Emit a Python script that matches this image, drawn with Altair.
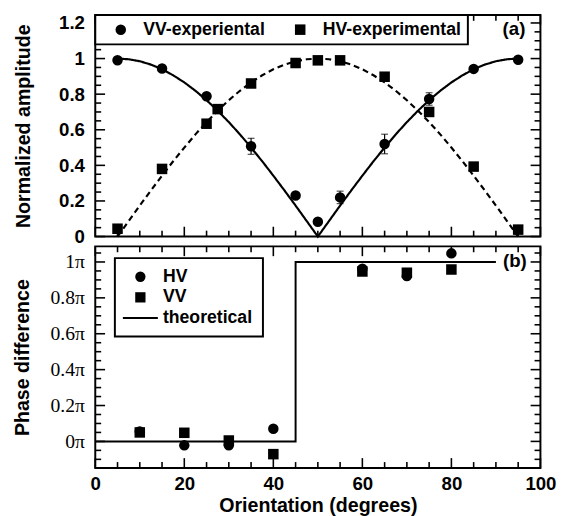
import altair as alt
import pandas as pd

# ---------------- data ----------------
# panel (a): normalized amplitude
vv_x = [5, 15, 25, 35, 45, 50, 55, 65, 75, 85, 95]
vv_amp = [0.99, 0.944, 0.788, 0.507, 0.231, 0.083, 0.22, 0.52, 0.773, 0.942, 0.993]
vv_err = [0, 0, 0, 0.045, 0, 0, 0.035, 0.055, 0.035, 0, 0]
hv_x = [5, 15, 25, 27.5, 35, 45, 50, 55, 65, 75, 85, 95]
hv_amp = [0.044, 0.38, 0.634, 0.716, 0.86, 0.975, 0.99, 0.99, 0.898, 0.70, 0.393, 0.039]

theory_x = [5, 7.5, 10, 12.5, 15, 17.5, 20, 22.5, 25, 27.5, 30, 32.5, 35, 37.5, 40, 42.5,
            45, 47.5, 50, 52.5, 55, 57.5, 60, 62.5, 65, 67.5, 70, 72.5, 75, 77.5, 80, 82.5,
            85, 87.5, 90, 92.5, 95]
theory_vv = [1.0, 0.996, 0.985, 0.966, 0.94, 0.906, 0.866, 0.819, 0.766, 0.707, 0.643, 0.574,
             0.5, 0.423, 0.342, 0.259, 0.174, 0.087, 0.0, 0.087, 0.174, 0.259, 0.342, 0.423,
             0.5, 0.574, 0.643, 0.707, 0.766, 0.819, 0.866, 0.906, 0.94, 0.966, 0.985, 0.996, 1.0]
theory_hv = [0.0, 0.087, 0.174, 0.259, 0.342, 0.423, 0.5, 0.574, 0.643, 0.707, 0.766, 0.819,
             0.866, 0.906, 0.94, 0.966, 0.985, 0.996, 1.0, 0.996, 0.985, 0.966, 0.94, 0.906,
             0.866, 0.819, 0.766, 0.707, 0.643, 0.574, 0.5, 0.423, 0.342, 0.259, 0.174, 0.087, 0.0]

# panel (b): phase difference (in units of pi)
phase_x = [10, 20, 30, 40, 60, 70, 80]
phase_hv = [0.055, -0.022, -0.022, 0.071, 0.962, 0.922, 1.048]
phase_vv = [0.05, 0.048, 0.005, -0.071, 0.947, 0.94, 0.958]
step_x = [0, 45, 45, 90]
step_y = [0, 0, 1, 1]

# tick values
amp_major = [0, 0.2, 0.4, 0.6, 0.8, 1.0, 1.2]
amp_minor = [0.05, 0.1, 0.15, 0.25, 0.3, 0.35, 0.45, 0.5, 0.55, 0.65, 0.7, 0.75,
             0.85, 0.9, 0.95, 1.05, 1.1, 1.15]
phase_major = [0, 0.2, 0.4, 0.6, 0.8, 1.0]
phase_minor = [-0.1, -0.05, 0.05, 0.1, 0.15, 0.25, 0.3, 0.35, 0.45, 0.5, 0.55, 0.65,
               0.7, 0.75, 0.85, 0.9, 0.95, 1.05]
x_major = [0, 20, 40, 60, 80, 100]
x_minor = [5, 10, 15, 25, 30, 35, 45, 50, 55, 65, 70, 75, 85, 90, 95]

# ---------------- layout / style ----------------
W, H = 454, 226
MAJ, MIN = 10, 6
SANS = "Liberation Sans"
SERIF = "Liberation Serif"
LINE_SYMBOL = "M-3.4,-0.2H3.4V0.2H-3.4Z"   # legend symbol for the theoretical line

xs = alt.Scale(domain=[0, 100], nice=False, zero=False)
ys_top = alt.Scale(domain=[0, 1.245], nice=False, zero=False)
ys_bot = alt.Scale(domain=[-0.148, 1.087], nice=False, zero=False)

top_y_axis = alt.Axis(values=amp_major, format="~g", title="Normalized amplitude",
                      ticks=False, domain=False, grid=False, labelOverlap=False,
                      labelFont=SANS, labelFontSize=19, labelFontWeight="bold",
                      labelColor="black", labelPadding=11,
                      titleFont=SANS, titleFontSize=20, titleFontWeight="bold",
                      titleColor="black", titlePadding=26)
bot_y_axis = alt.Axis(values=phase_major, labelExpr="format(datum.value, '~g') + 'π'",
                      title="Phase difference", ticks=False, domain=False, grid=False,
                      labelOverlap=False, labelFont=SERIF, labelFontSize=20,
                      labelColor="black", labelPadding=11,
                      titleFont=SANS, titleFontSize=20, titleFontWeight="bold",
                      titleColor="black", titlePadding=18)
bot_x_axis = alt.Axis(values=x_major, title="Orientation (degrees)", ticks=False,
                      domain=False, grid=False, labelFlush=False, labelOverlap=False,
                      labelFont=SANS, labelFontSize=19, labelFontWeight="bold",
                      labelColor="black", labelPadding=7,
                      titleFont=SANS, titleFontSize=20, titleFontWeight="bold",
                      titleColor="black", titlePadding=2)


def enc_x(field, axis):
    return alt.X(field, scale=xs, axis=axis)


def y_ticks(vals, length, yscale, yaxis):
    df = pd.DataFrame({"t": vals})
    base = alt.Chart(df).mark_rule(color="black", strokeWidth=1.6)
    ey = alt.Y("t:Q", scale=yscale, axis=yaxis)
    return [
        base.encode(y=ey, x=alt.value(0), x2=alt.value(length)),
        base.encode(y=ey, x=alt.value(W - length), x2=alt.value(W)),
    ]


def x_ticks(vals, length, xaxis):
    df = pd.DataFrame({"t": vals})
    base = alt.Chart(df).mark_rule(color="black", strokeWidth=1.6)
    ex = alt.X("t:Q", scale=xs, axis=xaxis)
    return [
        base.encode(x=ex, y=alt.value(0), y2=alt.value(length)),
        base.encode(x=ex, y=alt.value(H - length), y2=alt.value(H)),
    ]


def frame_ticks(major, minor, yscale, yaxis, xaxis):
    return (y_ticks(major, MAJ, yscale, yaxis) + y_ticks(minor, MIN, yscale, yaxis)
            + x_ticks(x_major, MAJ, xaxis) + x_ticks(x_minor, MIN, xaxis))


# ---------------- panel (a) ----------------
theory_df = pd.DataFrame({
    "x": theory_x + theory_x,
    "v": theory_vv + theory_hv,
    "curve": ["VV"] * len(theory_x) + ["HV"] * len(theory_x),
})
lines = alt.Chart(theory_df).mark_line(color="black", strokeWidth=2.2).encode(
    x=enc_x("x:Q", None),
    y=alt.Y("v:Q", scale=ys_top, axis=top_y_axis),
    strokeDash=alt.StrokeDash("curve:N", scale=alt.Scale(domain=["VV", "HV"],
                                                         range=[[1, 0], [6, 4]]),
                              legend=None),
)

err_df = pd.DataFrame({"x": vv_x, "v": vv_amp, "e": vv_err})
err_df = err_df[err_df["e"] > 0].copy()
err_df["lo"] = err_df["v"] - err_df["e"]
err_df["hi"] = err_df["v"] + err_df["e"]
err_rule = alt.Chart(err_df).mark_rule(color="black", strokeWidth=1.2).encode(
    x=enc_x("x:Q", None),
    y=alt.Y("lo:Q", scale=ys_top, axis=top_y_axis), y2="hi:Q")
err_lo = alt.Chart(err_df).mark_tick(color="black", orient="horizontal", size=7,
                                     thickness=1.2).encode(
    x=enc_x("x:Q", None), y=alt.Y("lo:Q", scale=ys_top, axis=top_y_axis))
err_hi = alt.Chart(err_df).mark_tick(color="black", orient="horizontal", size=7,
                                     thickness=1.2).encode(
    x=enc_x("x:Q", None), y=alt.Y("hi:Q", scale=ys_top, axis=top_y_axis))

pts_top = pd.concat([
    pd.DataFrame({"x": hv_x, "v": hv_amp, "series": "HV-experimental"}),
    pd.DataFrame({"x": vv_x, "v": vv_amp, "series": "VV-experiental"}),
])
points_top = alt.Chart(pts_top).mark_point(filled=True, color="black", size=115,
                                           opacity=1).encode(
    x=enc_x("x:Q", None),
    y=alt.Y("v:Q", scale=ys_top, axis=top_y_axis),
    shape=alt.Shape("series:N",
                    scale=alt.Scale(domain=["VV-experiental", "HV-experimental"],
                                    range=["circle", "square"]),
                    legend=alt.Legend(title=None, orient="none", legendX=0, legendY=0,
                                      direction="horizontal", padding=6,
                                      symbolOffset=11, labelOffset=14, columnPadding=15,
                                      fillColor="white", strokeColor="black",
                                      symbolSize=115, symbolFillColor="black",
                                      symbolStrokeColor="black", symbolStrokeWidth=1,
                                      labelFont=SANS, labelFontSize=18,
                                      labelFontWeight="bold", labelColor="black")),
)

label_a = alt.Chart(pd.DataFrame({"t": ["(a)"]})).mark_text(
    font=SANS, fontSize=19, fontWeight="bold", color="black", align="center",
    baseline="middle").encode(x=alt.value(427), y=alt.value(14), text="t:N")

top = alt.layer(lines, *frame_ticks(amp_major, amp_minor, ys_top, top_y_axis, None),
                err_rule, err_lo, err_hi, points_top, label_a).properties(width=W, height=H)

# ---------------- panel (b) ----------------
step_df = pd.DataFrame({"x": step_x, "v": step_y, "i": list(range(len(step_x)))})
step = alt.Chart(step_df).mark_line(color="black", strokeWidth=2).encode(
    x=enc_x("x:Q", bot_x_axis),
    y=alt.Y("v:Q", scale=ys_bot, axis=bot_y_axis),
    order="i:Q",
)

pts_bot = pd.concat([
    pd.DataFrame({"x": phase_x, "v": phase_hv, "series": "HV"}),
    pd.DataFrame({"x": phase_x, "v": phase_vv, "series": "VV"}),
])
leg_dom = ["HV", "VV", "theoretical"]
points_bot = alt.Chart(pts_bot).mark_point(filled=True, color="black", size=115,
                                           opacity=1).encode(
    x=enc_x("x:Q", bot_x_axis),
    y=alt.Y("v:Q", scale=ys_bot, axis=bot_y_axis),
    shape=alt.Shape("series:N", scale=alt.Scale(domain=leg_dom,
                                                range=["circle", "square", LINE_SYMBOL]),
                    legend=alt.Legend(title=None, orient="none", legendX=20, legendY=12,
                                      direction="vertical", padding=10, symbolOffset=7,
                                      labelOffset=14, rowPadding=3,
                                      fillColor="white", strokeColor="black",
                                      symbolSize=110, symbolFillColor="black",
                                      symbolStrokeColor="black", symbolStrokeWidth=1,
                                      labelFont=SANS, labelFontSize=18,
                                      labelFontWeight="bold", labelColor="black")),
)

label_b = alt.Chart(pd.DataFrame({"t": ["(b)"]})).mark_text(
    font=SANS, fontSize=19, fontWeight="bold", color="black", align="center",
    baseline="middle").encode(x=alt.value(428), y=alt.value(15), text="t:N")

bottom = alt.layer(step, *frame_ticks(phase_major, phase_minor, ys_bot, bot_y_axis, bot_x_axis),
                   points_bot, label_b).properties(width=W, height=H)

chart = alt.vconcat(top, bottom, spacing=10, bounds="flush").resolve_scale(
    shape="independent", strokeDash="independent"
).resolve_legend(shape="independent").properties(
    padding={"left": 3, "top": 0, "right": 5, "bottom": 0}
).configure_view(stroke="black", strokeWidth=2).configure_legend(strokeWidth=2)

chart.save("out.html", embed_options={"renderer": "svg", "actions": False})
